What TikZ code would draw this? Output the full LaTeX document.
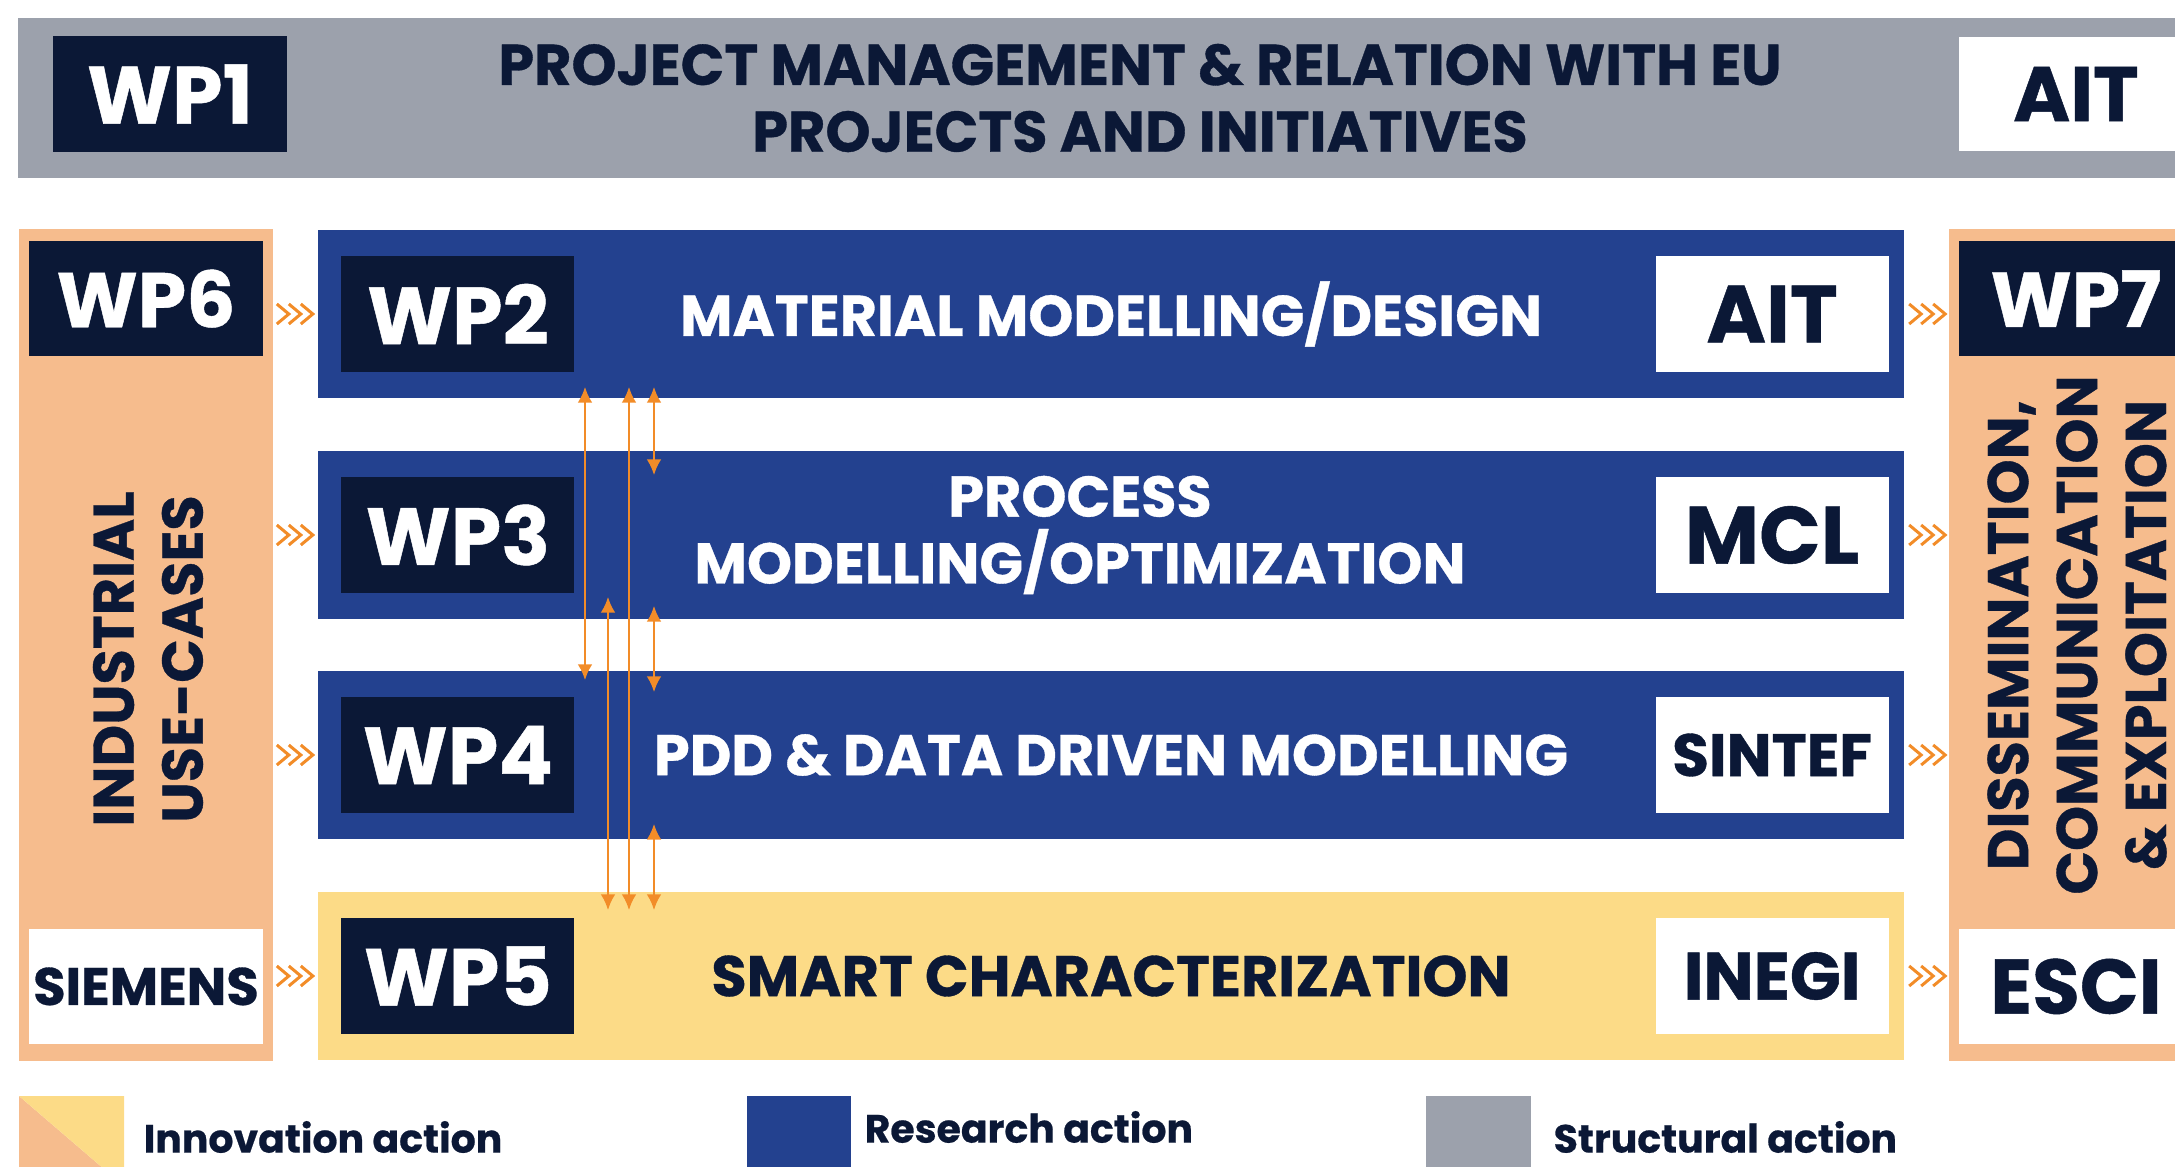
\documentclass[tikz,border=0pt]{standalone}
\usepackage{fontspec}
\setmainfont{Poppins}[BoldFeatures={FakeBold=0.6}]
\usetikzlibrary{arrows.meta}
\usetikzlibrary{positioning}
\usetikzlibrary{calc}
\definecolor{navy}{HTML}{0B1836}
\definecolor{resblue}{HTML}{23418F}
\definecolor{strgray}{HTML}{9CA1AC}
\definecolor{innorange}{HTML}{F6BC8D}
\definecolor{innyellow}{HTML}{FCDB87}
\definecolor{linkorange}{HTML}{F28C28}
\tikzstyle{band}=[inner sep=0pt,minimum width=15.86cm,minimum height=1.68cm,align=center,font=\bfseries\fontsize{16.3}{19}\selectfont]
\tikzstyle{research}=[fill=resblue,text=white]
\tikzstyle{innovation}=[fill=innyellow,text=navy]
\tikzstyle{wpbox}=[fill=navy,text=white,inner sep=0pt,minimum width=2.33cm,minimum height=1.16cm,font=\bfseries\fontsize{23}{23}\selectfont]
\tikzstyle{partner}=[fill=white,text=navy,inner sep=0pt,minimum width=2.33cm,minimum height=1.16cm,font=\bfseries\fontsize{23}{23}\selectfont]
\tikzstyle{panel}=[fill=innorange,inner sep=0pt,minimum width=2.54cm,minimum height=8.31cm]
\tikzstyle{sidetext}=[text=navy,rotate=90,align=center,font=\bfseries\fontsize{16.3}{19.6}\selectfont]
\tikzstyle{link}=[draw=linkorange,line width=0.8pt,{Latex[length=4.5pt,width=4.2pt]}-{Latex[length=4.5pt,width=4.2pt]}]
\tikzstyle{legend}=[anchor=west,text=navy,inner sep=0pt,font=\bfseries\fontsize{11.2}{12}\selectfont]
\tikzset{chev/.pic={\foreach \k in {0,12,24} \draw[linkorange,line width=0.85pt] (-18+\k,-10) -- (-6+\k,0) -- (-18+\k,10);}}

\begin{document}
\begin{tikzpicture}[x=0.01cm,y=-0.01cm]
\useasboundingbox (0,0) rectangle (2175,1167);
\clip (0,0) rectangle (2175,1167);

% structural action
\node [band,fill=strgray,text=navy,minimum width=22.42cm,minimum height=1.60cm] (wp1) at (1140,98) {PROJECT MANAGEMENT \& RELATION WITH EU\\PROJECTS AND INITIATIVES};
\node [wpbox] (wp1id) at (170,94) {WP1};
\node [partner,minimum height=1.13cm,font=\bfseries\fontsize{22}{22}\selectfont] (wp1lead) at (2076,94) {AIT};

% side panels
\node [panel] (left) at (146,645) {};
\node [wpbox,minimum height=1.15cm,font=\bfseries\fontsize{22}{22}\selectfont] (wp6id) at (left.north) [yshift=-0.70cm] {WP6};
\node [partner,minimum height=1.15cm,font=\bfseries\fontsize{15}{15}\selectfont] (wp6lead) at (left.south) [yshift=0.75cm] {SIEMENS};
\node [sidetext] (usecases) at (148,659) {INDUSTRIAL\\USE-CASES};

\node [panel] (right) at (2076,645) {};
\node [wpbox,minimum height=1.15cm,font=\bfseries\fontsize{22}{22}\selectfont] (wp7id) at (right.north) [yshift=-0.70cm] {WP7};
\node [partner,minimum height=1.15cm,font=\bfseries\fontsize{22}{22}\selectfont] (wp7lead) at (right.south) [yshift=0.75cm] {ESCI};
\node [sidetext] (dce) at (2077,635) {DISSEMINATION,\\COMMUNICATION\\\& EXPLOITATION};

% research and innovation actions
\node [band,research] (wp2) at (1111,314) {MATERIAL MODELLING/DESIGN};
\node [band,research] (wp3) at (1111,535) {};
\node [band,text=white] (wp3title) at (wp3) [xshift=-0.31cm] {PROCESS\\MODELLING/OPTIMIZATION};
\node [band,research] (wp4) at (1111,755) {PDD \& DATA DRIVEN MODELLING};
\node [band,innovation] (wp5) at (1111,976) {SMART CHARACTERIZATION};

\node [wpbox] (wp2id) at (wp2.west) [xshift=1.41cm] {WP2};
\node [wpbox] (wp3id) at (wp3.west) [xshift=1.41cm] {WP3};
\node [wpbox] (wp4id) at (wp4.west) [xshift=1.41cm] {WP4};
\node [wpbox] (wp5id) at (wp5.west) [xshift=1.41cm] {WP5};

\node [partner] (wp2lead) at (wp2.east) [xshift=-1.33cm] {AIT};
\node [partner] (wp3lead) at (wp3.east) [xshift=-1.33cm] {MCL};
\node [partner,font=\bfseries\fontsize{17}{17}\selectfont] (wp4lead) at (wp4.east) [xshift=-1.33cm] {SINTEF};
\node [partner,font=\bfseries\fontsize{19}{19}\selectfont] (wp5lead) at (wp5.east) [xshift=-1.33cm] {INEGI};

% chevrons
\foreach \b in {wp2,wp3,wp4,wp5} {
  \pic at ([xshift=-0.22cm]\b.west) {chev};
  \pic at ([xshift=0.22cm]\b.east) {chev};
}

% links between work packages
\draw [link] ($(wp2.south)+(-526,-12)$) -- ($(wp4.north)+(-526,10)$);
\draw [link] ($(wp2.south)+(-482,-12)$) -- ($(wp5.north)+(-482,19)$);
\draw [link] ($(wp2.south)+(-457,-12)$) -- ($(wp3.north)+(-457,25)$);
\draw [link] ($(wp3.south)+(-503,-23)$) -- ($(wp5.north)+(-503,19)$);
\draw [link] ($(wp3.south)+(-457,-14)$) -- ($(wp4.north)+(-457,22)$);
\draw [link] ($(wp4.south)+(-457,-16)$) -- ($(wp5.north)+(-457,19)$);

% legend
\fill [innorange] (19,1096) -- (111,1175) -- (19,1175) -- cycle;
\fill [innyellow] (19,1096) -- (124,1096) -- (124,1175) -- (111,1175) -- cycle;
\fill [resblue] (747,1096) rectangle (851,1175);
\fill [strgray] (1426,1096) rectangle (1531,1175);
\node [legend] (leginno) at (143,1137) {Innovation action};
\node [legend] (legres) at (864,1127) {Research action};
\node [legend] (legstr) at (1553,1137) {Structural action};
\end{tikzpicture}
\end{document}
